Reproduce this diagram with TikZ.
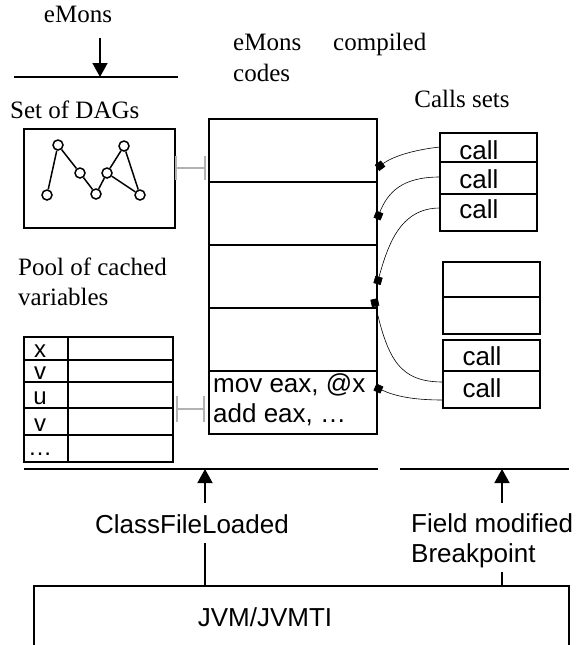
\documentclass[tikz,border=0pt]{standalone}
\usepackage{fontspec}
\setmainfont{Liberation Serif}
\setsansfont{Liberation Sans}
\usetikzlibrary{arrows.meta}
\begin{document}
\begin{tikzpicture}[x=1pt,y=-1pt,
  box/.style={draw,line width=1.7pt,inner sep=0pt,outer sep=0pt,anchor=north west},
  ser/.style={font=\fontsize{25}{28}\selectfont,inner sep=0pt},
  san/.style={font=\sffamily\fontsize{26}{29}\selectfont,inner sep=0pt},
  vsan/.style={font=\sffamily\fontsize{24}{26}\selectfont,inner sep=0pt},
  wire/.style={line width=0.6pt,-{Square[length=7.5pt,width=7.5pt]}},
  gline/.style={draw=gray!60,line width=1.5pt},
  evarrow/.style={line width=1.6pt,-{Triangle[length=14pt,width=15pt]}},
  dagnode/.style={circle,draw,line width=1.5pt,minimum size=10pt,inner sep=0pt},
  dagedge/.style={line width=1.5pt}]
\useasboundingbox (0,0) rectangle (576,645);

% ---- top labels
\node[ser,anchor=base] (emons) at (78,23) {eMons};
\coordinate (emA) at (100,38);
\coordinate (emB) at (100,77);
\draw[line width=1.7pt] (14,77) -- (178,77);
\draw[evarrow] (emA) -- (emB);

\node[ser,anchor=base west] (ecodes1) at (233,50) {eMons};
\node[ser,anchor=base west] (compiled) at (333,50) {compiled};
\node[ser,anchor=base west] (ecodes2) at (233,81) {codes};
\node[ser,anchor=base west] (setdags) at (10,118) {Set of DAGs};
\node[ser,anchor=base] (callsets) at (462,107) {Calls sets};
\node[ser,anchor=base west] (pool1) at (18,275) {Pool of cached};
\node[ser,anchor=base west] (pool2) at (18,305) {variables};

% ---- DAG box
\node[box,minimum width=151pt,minimum height=99pt] (dag) at (24,129) {};
\node[dagnode] (d1) at (58,145) {};
\node[dagnode] (d2) at (47,195) {};
\node[dagnode] (d3) at (80,173) {};
\node[dagnode] (d4) at (96,194) {};
\node[dagnode] (d5) at (107,173) {};
\node[dagnode] (d6) at (124,146) {};
\node[dagnode] (d7) at (140,195) {};
\draw[dagedge] (d2) -- (d1);
\draw[dagedge] (d1) -- (d3);
\draw[dagedge] (d3) -- (d4);
\draw[dagedge] (d4) -- (d5);
\draw[dagedge] (d5) -- (d6);
\draw[dagedge] (d6) -- (d7);
\draw[dagedge] (d5) -- (d7);

% ---- code box
\node[box,minimum width=168pt,minimum height=63pt] (c1) at (209,119) {};
\node[box,minimum width=168pt,minimum height=63pt] (c2) at (209,182) {};
\node[box,minimum width=168pt,minimum height=63pt] (c3) at (209,245) {};
\node[box,minimum width=168pt,minimum height=63pt] (c4) at (209,308) {};
\node[box,minimum width=168pt,minimum height=63pt] (c5) at (209,371) {};
\node[san,anchor=base west] (mov) at (213,392) {mov eax, @x};
\node[san,anchor=base west] (add) at (213,422) {add eax, \ldots};

% ---- gray connectors
\coordinate (g1a) at (176,168);
\coordinate (g1b) at (205,168);
\draw[gline] (g1a) -- (g1b);
\draw[gline] ([yshift=-12pt]g1a) -- ([yshift=12pt]g1a);
\draw[gline] ([yshift=-12pt]g1b) -- ([yshift=12pt]g1b);
\coordinate (g2a) at (177,409);
\coordinate (g2b) at (204,409);
\draw[gline] (g2a) -- (g2b);
\draw[gline] ([yshift=-13pt]g2a) -- ([yshift=13pt]g2a);
\draw[gline] ([yshift=-13pt]g2b) -- ([yshift=13pt]g2b);

% ---- variables table
\foreach \t/\b/\lab/\bl in {337/360/x/357, 360/382/v/379, 382/408/u/404, 408/435/v/431, 435/462/\ldots/455}{
  \pgfmathsetmacro{\h}{\b-\t}
  \node[box,minimum width=44pt,minimum height=\h pt] (k\t) at (24,\t) {};
  \node[box,minimum width=105pt,minimum height=\h pt] (v\t) at (68,\t) {};
  \node[vsan,anchor=base] (l\t) at (40,\bl) {\lab};
}

% ---- calls sets (upper)
\node[box,minimum width=97pt,minimum height=29pt] (ca1) at (440,133) {};
\node[box,minimum width=97pt,minimum height=32pt] (ca2) at (440,162) {};
\node[box,minimum width=97pt,minimum height=37pt] (ca3) at (440,194) {};
\node[san,anchor=base] (ta1) at (479,159) {call};
\node[san,anchor=base] (ta2) at (479,188) {call};
\node[san,anchor=base] (ta3) at (479,218) {call};

% ---- calls sets (lower)
\node[box,minimum width=97pt,minimum height=35pt] (e1) at (443,262) {};
\node[box,minimum width=97pt,minimum height=37pt] (e2) at (443,297) {};
\node[box,minimum width=97pt,minimum height=31pt] (cb1) at (443,340) {};
\node[box,minimum width=97pt,minimum height=37pt] (cb2) at (443,371) {};
\node[san,anchor=base] (tb1) at (482,365) {call};
\node[san,anchor=base] (tb2) at (482,397) {call};

% ---- wires from calls to code
\coordinate (w1s) at (440,147);
\coordinate (w1e) at (377,168);
\coordinate (w2s) at (440,177);
\coordinate (w2e) at (377,219);
\coordinate (w3s) at (440,208);
\coordinate (w3e) at (377,284);
\coordinate (w4s) at (443,382);
\coordinate (w4e) at (374,299);
\coordinate (w5s) at (443,400);
\coordinate (w5e) at (375,387);
\draw[wire] (w1s) .. controls (412,150) and (392,157) .. (w1e);
\draw[wire] (w2s) .. controls (402,177) and (388,192) .. (w2e);
\draw[wire] (w3s) .. controls (400,208) and (388,245) .. (w3e);
\draw[wire] (w4s) .. controls (400,382) and (388,360) .. (w4e);
\draw[wire] (w5s) .. controls (412,400) and (395,396) .. (w5e);

% ---- bottom event lines
\draw[line width=1.7pt] (24,469) -- (378,469);
\draw[line width=1.7pt] (400,469) -- (569,469);
\coordinate (a1s) at (205,503);
\coordinate (a1e) at (205,469);
\coordinate (a2s) at (502,503);
\coordinate (a2e) at (502,469);
\draw[evarrow] (a1s) -- (a1e);
\draw[evarrow] (a2s) -- (a2e);
\node[san,anchor=base] (cfl) at (192,533) {ClassFileLoaded};
\node[san,anchor=base west] (fm) at (411,532) {Field modified};
\node[san,anchor=base west] (bp) at (411,562) {Breakpoint};

% ---- JVM box (open at bottom)
\coordinate (jl) at (34,645);
\coordinate (jtl) at (34,586);
\coordinate (jtr) at (569,586);
\coordinate (jr) at (569,645);
\draw[line width=1.7pt] (jl) -- (jtl) -- (jtr) -- (jr);
\node[san,anchor=base] (jvm) at (265,626) {JVM/JVMTI};
\coordinate (j1) at (205,586);
\coordinate (j2) at (502,586);
\draw[line width=1.5pt] (205,543) -- (j1);
\draw[line width=1.5pt] (502,572) -- (j2);
\end{tikzpicture}
\end{document}
